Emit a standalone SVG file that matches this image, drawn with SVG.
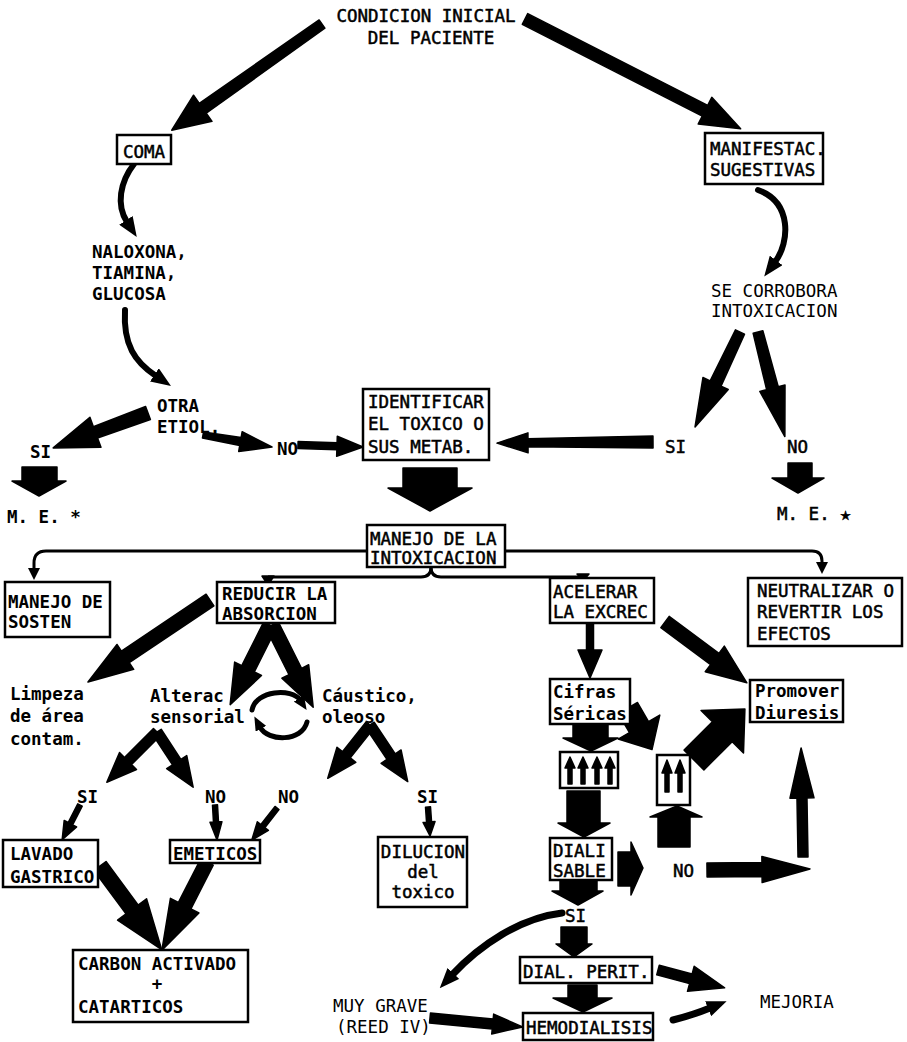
<svg xmlns="http://www.w3.org/2000/svg" width="907" height="1042" viewBox="0 0 907 1042">
<style>
text{font-family:"DejaVu Sans Mono","Liberation Mono",monospace;font-size:17.5px;fill:#000}
.b{font-weight:bold}
.m{stroke:#000;stroke-width:0.5}
.box{fill:#fff;stroke:#000;stroke-width:2.5}
.ar{fill:#000;stroke:#000;stroke-width:1.5;stroke-linejoin:round}
.cv{fill:none;stroke:#000;stroke-linecap:round}
.ln{fill:none;stroke:#000;stroke-width:3}
.mid{text-anchor:middle}
</style>
<defs>
<marker id="mh" markerUnits="userSpaceOnUse" viewBox="0 0 20 16" markerWidth="20" markerHeight="16" refX="2" refY="8" orient="auto"><path d="M0,0 L20,8 L0,16 z"/></marker>
<marker id="ms" markerUnits="userSpaceOnUse" viewBox="0 0 14 12" markerWidth="14" markerHeight="12" refX="2" refY="6" orient="auto"><path d="M0,0 L14,6 L0,12 z"/></marker>
<marker id="mc" markerUnits="userSpaceOnUse" viewBox="0 0 12 12" markerWidth="12" markerHeight="12" refX="1" refY="6" orient="auto"><path d="M0,0 L12,6 L0,12 z"/></marker>
</defs>
<rect width="907" height="1042" fill="#fff"/>

<g id="connectors">
<polygon class="ar" transform="translate(322,24) rotate(144.75)" points="0,-5 146,-6 146,-16 184,0 146,16 146,6 0,5"/>
<polygon class="ar" transform="translate(525,19) rotate(27)" points="0,-6 202,-6 202,-15 242,0 202,15 202,6 0,6"/>
<polygon class="ar" transform="translate(740,332) rotate(115.35)" points="0,-5 57,-6 57,-14 105,0 57,14 57,6 0,5"/>
<polygon class="ar" transform="translate(758,332) rotate(75.6)" points="0,-5 58,-6 58,-13 108,0 58,13 58,6 0,5"/>
<polygon class="ar" transform="translate(653,442) rotate(179.6)" points="0,-6 125,-4 125,-10 156,0 125,10 125,4 0,6"/>
<polygon class="ar" transform="translate(148,413) rotate(159.8)" points="0,-7 56,-6 56,-16 101,0 56,16 56,6 0,7"/>
<polygon class="ar" transform="translate(203,435) rotate(9.9)" points="0,-3 38,-4 38,-10 70,0 38,10 38,4 0,3"/>
<polygon class="ar" transform="translate(298,445) rotate(1.8)" points="0,-3.5 39,-3.5 39,-10 65,0 39,10 39,3.5 0,3.5"/>
<polygon class="ar" transform="translate(210,600) rotate(146.1)" points="0,-7 102,-7 102,-15 147,0 102,15 102,7 0,7"/>
<polygon class="ar" transform="translate(270,625) rotate(116.6)" points="0,-7 49,-7 49,-15 89,0 49,15 49,7 0,7"/>
<polygon class="ar" transform="translate(272,625) rotate(63.4)" points="0,-7 52,-7 52,-15 92,0 52,15 52,7 0,7"/>
<polygon class="ar" transform="translate(157,732) rotate(135)" points="0,-5 41,-5 41,-12 71,0 41,12 41,5 0,5"/>
<polygon class="ar" transform="translate(157,732) rotate(56.8)" points="0,-5 36,-5 36,-12 66,0 36,12 36,5 0,5"/>
<polygon class="ar" transform="translate(370,725) rotate(128.4)" points="0,-5 38,-5 38,-12 68,0 38,12 38,5 0,5"/>
<polygon class="ar" transform="translate(370,725) rotate(56.3)" points="0,-5 38,-5 38,-12 68,0 38,12 38,5 0,5"/>
<polygon class="ar" transform="translate(80,805) rotate(117.2)" points="0,-2.5 21,-2.5 21,-7 39,0 21,7 21,2.5 0,2.5"/>
<polygon class="ar" transform="translate(215,805) rotate(86.7)" points="0,-2.5 17,-2.5 17,-6 35,0 17,6 17,2.5 0,2.5"/>
<polygon class="ar" transform="translate(277,808) rotate(128)" points="0,-2.5 23,-2.5 23,-7 41,0 23,7 23,2.5 0,2.5"/>
<polygon class="ar" transform="translate(428,807) rotate(86)" points="0,-2.5 15,-2.5 15,-6 29,0 15,6 15,2.5 0,2.5"/>
<polygon class="ar" transform="translate(100,866) rotate(53.6)" points="0,-7.5 54,-7.5 54,-18 104,0 54,18 54,7.5 0,7.5"/>
<polygon class="ar" transform="translate(207,862) rotate(117.1)" points="0,-7 49,-7 49,-16 99,0 49,16 49,7 0,7"/>
<polygon class="ar" transform="translate(665,622) rotate(36.6)" points="0,-7 62,-7 62,-16 102,0 62,16 62,7 0,7"/>
<polygon class="ar" transform="translate(658,970) rotate(15)" points="0,-5 34,-5 34,-13 69,0 34,13 34,5 0,5"/>
<polygon class="ar" transform="translate(430,1018) rotate(5.5)" points="0,-5 63,-5 63,-10 93,0 63,10 63,5 0,5"/>
<polygon class="ar" transform="translate(707,870) rotate(-0.6)" points="0,-7 55,-7 55,-13 103,0 55,13 55,7 0,7"/>
<polygon class="ar" transform="translate(803,857) rotate(-91)" points="0,-5 59,-5 59,-12 109,0 59,12 59,5 0,5"/>
<polygon class="ar" transform="translate(590,623) rotate(90)" points="0,-3.5 27,-3.5 27,-12 55,0 27,12 27,3.5 0,3.5"/>

<polygon class="ar" points="22,467 57,467 57,481 66,481 39,496 12,481 22,481"/>
<polygon class="ar" points="788,463 812,463 812,478 824,478 798,493 772,478 788,478"/>
<polygon class="ar" points="403,468 457,468 457,488 472,488 430,511 388,488 403,488"/>
<polygon class="ar" points="573,725 608,725 608,738 618,738 591,751 563,738 573,738"/>
<polygon class="ar" points="567,791 600,791 600,823 610,823 584,837 558,823 567,823"/>
<polygon class="ar" points="560,880 597,880 597,891 603,891 578,905 552,891 560,891"/>
<polygon class="ar" points="561,927 587,927 587,944 592,944 574,957 556,944 561,944"/>
<polygon class="ar" points="568,985 597,985 597,998 612,998 583,1012 553,998 568,998"/>
<polygon class="ar" points="658,847 690,847 690,817 702,817 677,806 650,817 658,817"/>
<polygon class="ar" points="618,852 631,852 631,842 643,868 631,895 631,886 618,886"/>
<polygon class="ar" transform="translate(628,708) rotate(60)" points="0,-11 22,-11 22,-24 48,0 22,24 22,11 0,11"/>
<polygon class="ar" transform="translate(694,760) rotate(-45)" points="0,-14 40,-14 40,-30 72,0 40,30 40,14 0,14"/>

<path class="cv" stroke-width="6" marker-end="url(#mh)" d="M134,164 C120,182 116,205 127,222"/>
<path class="cv" stroke-width="6" marker-end="url(#mh)" d="M125,310 C123,345 135,362 156,376"/>
<path class="cv" stroke-width="6" marker-end="url(#mh)" d="M758,190 C792,202 790,242 775,262"/>
<path class="cv" stroke-width="7" marker-end="url(#mh)" d="M562,913 C520,918 480,945 452,975"/>
<path class="cv" stroke-width="7" marker-end="url(#mh)" d="M673,1020 Q693,1015 710,1008"/>
<path class="cv" stroke-width="5" marker-end="url(#ms)" d="M252,710 C256,690 292,688 300,700"/>
<path class="cv" stroke-width="5" marker-end="url(#ms)" d="M307,722 C302,742 268,742 260,727"/>

<path class="ln" marker-end="url(#mc)" d="M367,551 H46 Q34,551 34,563 V569"/>
<path class="ln" marker-end="url(#mc)" d="M505,551 H812 Q822,551 822,561 V563"/>
<path class="ln" d="M431,567 Q431,577 421,577 H268"/>
<path class="ln" d="M431,567 Q431,577 441,577 H583"/>
<polygon class="ar" points="262,576 274,576 268,585"/>
<polygon class="ar" points="577,574 589,574 583,581"/>
</g>

<g id="n-condicion"><text class="mid m" x="426" y="22">CONDICION INICIAL</text><text class="mid m" x="431" y="44">DEL PACIENTE</text></g>
<g id="n-coma"><rect class="box" x="117" y="135" width="54" height="29"/><text class="mid m" x="144" y="158">COMA</text></g>
<g id="n-manifestac"><rect class="box" x="705" y="133" width="118" height="51"/><text class="m" x="710" y="155">MANIFESTAC.</text><text class="m" x="710" y="176">SUGESTIVAS</text></g>
<g id="n-naloxona"><text class="b" x="92" y="258">NALOXONA,</text><text class="b" x="92" y="279">TIAMINA,</text><text class="b" x="92" y="300">GLUCOSA</text></g>
<g id="n-secorrobora"><text x="711" y="297">SE CORROBORA</text><text x="711" y="317">INTOXICACION</text></g>
<g id="n-otra"><text class="b" x="157" y="412">OTRA</text><text class="b" x="157" y="433">ETIOL.</text></g>
<g id="n-si1"><text class="b" x="30" y="458">SI</text></g>
<g id="n-no1"><text class="b" x="277" y="455">NO</text></g>
<g id="n-identificar"><rect class="box" x="363" y="389" width="126" height="71"/><text class="m" x="368" y="408">IDENTIFICAR</text><text class="m" x="368" y="430">EL TOXICO O</text><text class="m" x="368" y="453">SUS METAB.</text></g>
<g id="n-si2"><text class="m" x="665" y="453">SI</text></g>
<g id="n-no2"><text class="m" x="787" y="453">NO</text></g>
<g id="n-me1"><text class="b" x="7" y="523">M. E. *</text></g>
<g id="n-me2"><text class="m" x="777" y="520">M. E. ★</text></g>
<g id="n-manejo"><rect class="box" x="367" y="525" width="138" height="42"/><text class="m" x="370" y="545">MANEJO DE LA</text><text class="m" x="370" y="564">INTOXICACION</text></g>
<g id="n-sosten"><rect class="box" x="5" y="582" width="105" height="55"/><text class="b" x="8" y="608">MANEJO DE</text><text class="b" x="8" y="628">SOSTEN</text></g>
<g id="n-reducir"><rect class="box" x="217" y="582" width="118" height="41"/><text class="b" x="222" y="600">REDUCIR LA</text><text class="b" x="222" y="620">ABSORCION</text></g>
<g id="n-acelerar"><rect class="box" x="550" y="578" width="104" height="45"/><text class="m" x="553" y="598">ACELERAR</text><text class="m" x="553" y="618">LA EXCREC</text></g>
<g id="n-neutralizar"><rect class="box" x="748" y="578" width="154" height="68"/><text class="m" x="757" y="597">NEUTRALIZAR O</text><text class="m" x="757" y="618">REVERTIR LOS</text><text class="m" x="757" y="640">EFECTOS</text></g>
<g id="n-limpeza"><text class="b" x="10" y="700">Limpeza</text><text class="b" x="10" y="722">de área</text><text class="b" x="10" y="745">contam.</text></g>
<g id="n-alterac"><text class="b" x="150" y="702">Alterac</text><text class="b" x="150" y="723">sensorial</text></g>
<g id="n-caustico"><text class="b" x="322" y="702">Cáustico,</text><text class="b" x="322" y="723">oleoso</text></g>
<g id="n-si3"><text class="b" x="77" y="803">SI</text></g>
<g id="n-no3"><text class="b" x="205" y="803">NO</text></g>
<g id="n-no4"><text class="b" x="278" y="803">NO</text></g>
<g id="n-si4"><text class="b" x="417" y="803">SI</text></g>
<g id="n-lavado"><rect class="box" x="3" y="840" width="95" height="47"/><text class="b" x="10" y="860">LAVADO</text><text class="b" x="10" y="883">GASTRICO</text></g>
<g id="n-emeticos"><rect class="box" x="170" y="840" width="90" height="23"/><text class="b" x="173" y="860">EMETICOS</text></g>
<g id="n-dilucion"><rect class="box" x="378" y="837" width="89" height="70"/><text class="mid m" x="423" y="858">DILUCION</text><text class="mid m" x="423" y="878">del</text><text class="mid m" x="423" y="898">toxico</text></g>
<g id="n-carbon"><rect class="box" x="73" y="950" width="175" height="72"/><text class="b" x="78" y="970">CARBON ACTIVADO</text><text class="b mid" x="157" y="990">+</text><text class="b" x="78" y="1013">CATARTICOS</text></g>
<g id="n-cifras"><rect class="box" x="550" y="679" width="80" height="45"/><text class="b" x="553" y="698">Cifras</text><text class="b" x="553" y="720">Séricas</text></g>
<g id="n-promover"><rect class="box" x="750" y="680" width="93" height="42"/><text class="b" x="755" y="697">Promover</text><text class="b" x="755" y="719">Diuresis</text></g>
<g id="n-alto4"><rect class="box" x="560" y="752" width="58" height="36"/>
<polygon class="ar" points="568,784 572,784 572,768 575,768 570,757 565,768 568,768"/>
<polygon class="ar" points="581,784 585,784 585,768 588,768 583,757 578,768 581,768"/>
<polygon class="ar" points="595,784 599,784 599,768 602,768 597,757 592,768 595,768"/>
<polygon class="ar" points="608,784 612,784 612,768 615,768 610,757 605,768 608,768"/></g>
<g id="n-alto2"><rect class="box" x="657" y="755" width="33" height="50"/>
<polygon class="ar" points="665,792 669,792 669,773 672,773 667,760 662,773 665,773"/>
<polygon class="ar" points="678,792 682,792 682,773 685,773 680,760 675,773 678,773"/></g>
<g id="n-dializable"><rect class="box" x="550" y="838" width="62" height="42"/><text class="m" x="553" y="857">DIALI</text><text class="m" x="553" y="877">SABLE</text></g>
<g id="n-no5"><text class="m" x="673" y="877">NO</text></g>
<g id="n-si5"><text class="m" x="565" y="922">SI</text></g>
<g id="n-dialperit"><rect class="box" x="520" y="957" width="132" height="26"/><text class="m" x="523" y="978">DIAL. PERIT.</text></g>
<g id="n-hemo"><rect class="box" x="523" y="1013" width="130" height="27"/><text class="m" x="526" y="1034">HEMODIALISIS</text></g>
<g id="n-muygrave"><text x="333" y="1012">MUY GRAVE</text><text x="336" y="1033">(REED IV)</text></g>
<g id="n-mejoria"><text x="760" y="1008">MEJORIA</text></g>
</svg>
